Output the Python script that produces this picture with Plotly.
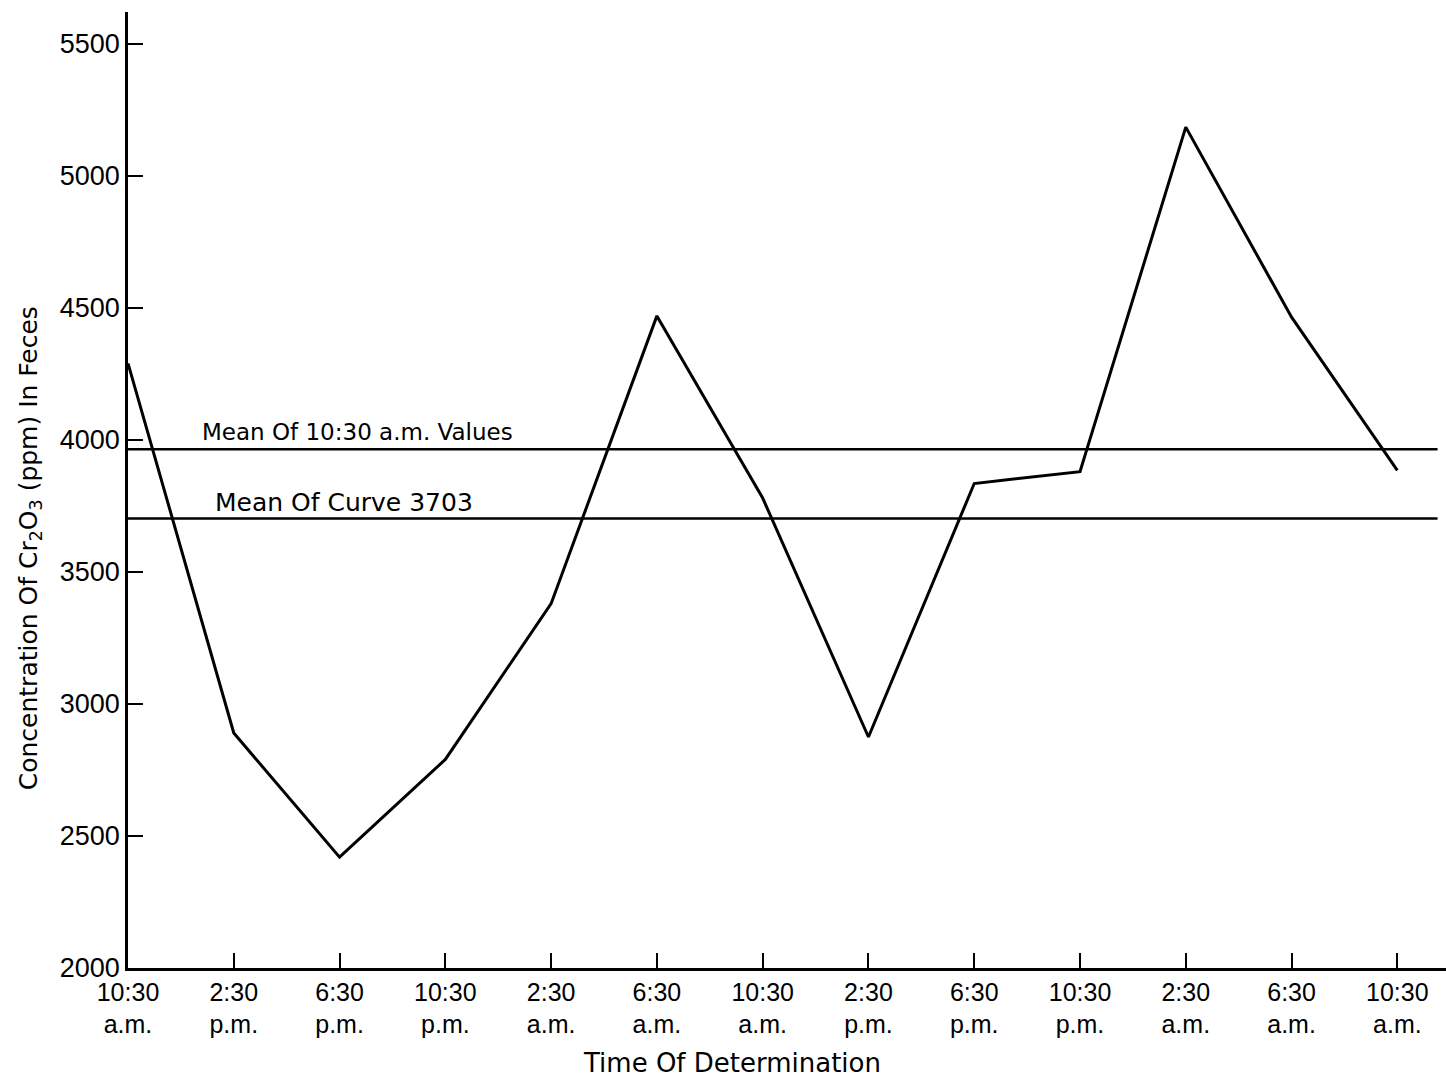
import plotly.graph_objects as go

# Sampling times (every 4 hours over two days)
time_labels = [
    "10:30<br>a.m.", "2:30<br>p.m.", "6:30<br>p.m.", "10:30<br>p.m.",
    "2:30<br>a.m.", "6:30<br>a.m.", "10:30<br>a.m.", "2:30<br>p.m.",
    "6:30<br>p.m.", "10:30<br>p.m.", "2:30<br>a.m.", "6:30<br>a.m.",
    "10:30<br>a.m.",
]
sample_index = list(range(len(time_labels)))

# Cr2O3 concentration in feces (ppm)
concentration = [4290, 2890, 2420, 2790, 3380, 4470, 3780,
                 2875, 3835, 3880, 5185, 4465, 3885]

mean_1030_am = 3965
mean_curve = 3703

y_ticks = [2000, 2500, 3000, 3500, 4000, 4500, 5000, 5500]

TICK_FONT = "Liberation Sans"
TEXT_FONT = "DejaVu Sans"
x_end = 12.38  # right end of the reference lines

fig = go.Figure()

fig.add_trace(go.Scatter(
    x=sample_index, y=concentration, mode="lines",
    line=dict(color="black", width=3), showlegend=False,
))
for level in (mean_1030_am, mean_curve):
    fig.add_trace(go.Scatter(
        x=[0, x_end], y=[level, level], mode="lines",
        line=dict(color="black", width=2.5), showlegend=False,
    ))

fig.add_annotation(x=0.68, y=4030, xref="x", yref="y", xanchor="left", yanchor="middle",
                   text="Mean Of 10:30 a.m. Values", showarrow=False,
                   font=dict(family=TEXT_FONT, size=23, color="black"))
fig.add_annotation(x=0.80, y=3765, xref="x", yref="y", xanchor="left", yanchor="middle",
                   text=f"Mean Of Curve {mean_curve}", showarrow=False,
                   font=dict(family=TEXT_FONT, size=25, color="black"))

# Axis titles
fig.add_annotation(x=-0.0744, y=0.439, xref="paper", yref="paper",
                   xanchor="center", yanchor="middle", textangle=-90,
                   text="Concentration Of Cr<sub>2</sub>O<sub>3</sub> (ppm) In Feces",
                   showarrow=False, font=dict(family=TEXT_FONT, size=25, color="black"))
fig.add_annotation(x=0.458, y=-0.0998, xref="paper", yref="paper",
                   xanchor="center", yanchor="middle",
                   text="Time Of Determination", showarrow=False,
                   font=dict(family=TEXT_FONT, size=26, color="black"))

fig.update_xaxes(
    range=[0, 12.46], tickvals=sample_index, ticktext=time_labels,
    ticks="inside", ticklen=15, tickwidth=2, tickcolor="black",
    showline=True, linecolor="black", linewidth=2.5,
    showgrid=False, zeroline=False,
    tickfont=dict(family=TICK_FONT, size=25, color="black"),
)
fig.update_yaxes(
    range=[2000, 5621], tickvals=y_ticks,
    ticks="inside", ticklen=15, tickwidth=2, tickcolor="black",
    showline=True, linecolor="black", linewidth=2.5,
    showgrid=False, zeroline=False,
    tickfont=dict(family=TICK_FONT, size=27, color="black"),
)

fig.update_layout(
    width=1446, height=1079,
    margin=dict(l=128, r=0, t=12, b=111),
    plot_bgcolor="white", paper_bgcolor="white",
)

fig.write_html("out.html")
